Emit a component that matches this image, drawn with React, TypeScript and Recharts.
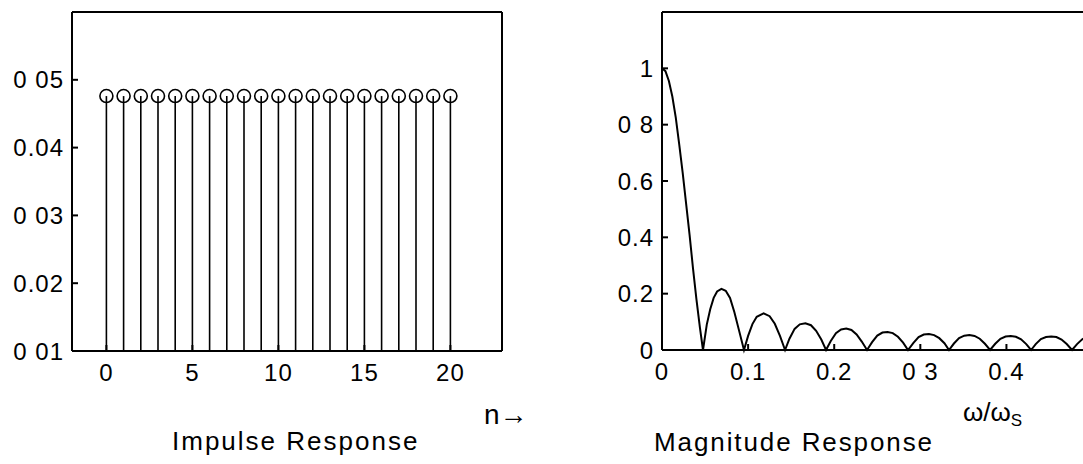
import React from "react";
import { ComposedChart, Line, ReferenceLine, Scatter, XAxis, YAxis } from "recharts";

// impulse response: 21 equal taps
const impulseN = [0, 1, 2, 3, 4, 5, 6, 7, 8, 9, 10, 11, 12, 13, 14, 15, 16, 17, 18, 19, 20];
const impulseH = [
  0.0476, 0.0476, 0.0476, 0.0476, 0.0476, 0.0476, 0.0476, 0.0476, 0.0476, 0.0476, 0.0476,
  0.0476, 0.0476, 0.0476, 0.0476, 0.0476, 0.0476, 0.0476, 0.0476, 0.0476, 0.0476,
];
const impulseXTicks = [0, 5, 10, 15, 20];
const impulseYTicks = [0.01, 0.02, 0.03, 0.04, 0.05];
const impulseYLabels = ["0 01", "0.02", "0 03", "0.04", "0 05"];

// magnitude response
const magFreq = [
  0, 0.004, 0.008, 0.012, 0.016, 0.02, 0.024, 0.028, 0.032, 0.036, 0.04, 0.044, 0.0476,
  0.052, 0.056, 0.06, 0.064, 0.069, 0.074, 0.079, 0.084, 0.089, 0.0952,
  0.1, 0.105, 0.11, 0.118, 0.125, 0.131, 0.137, 0.1429,
  0.148, 0.154, 0.16, 0.1665, 0.173, 0.179, 0.185, 0.1905,
  0.196, 0.202, 0.208, 0.214, 0.22, 0.226, 0.232, 0.2381,
  0.244, 0.25, 0.256, 0.262, 0.268, 0.274, 0.28, 0.2857,
  0.292, 0.298, 0.304, 0.31, 0.316, 0.322, 0.328, 0.3333,
  0.339, 0.345, 0.351, 0.357, 0.363, 0.369, 0.375, 0.381,
  0.387, 0.393, 0.399, 0.405, 0.411, 0.417, 0.423, 0.4286,
  0.434, 0.44, 0.446, 0.452, 0.458, 0.464, 0.47, 0.4762,
  0.482, 0.488, 0.494, 0.5, 0.506, 0.512, 0.518, 0.5238,
];
const magValue = [
  1.0, 0.99, 0.955, 0.9, 0.825, 0.73, 0.63, 0.52, 0.41, 0.29, 0.18, 0.08, 0,
  0.09, 0.145, 0.185, 0.208, 0.217, 0.21, 0.185, 0.135, 0.075, 0,
  0.05, 0.092, 0.118, 0.13, 0.12, 0.093, 0.05, 0,
  0.04, 0.075, 0.091, 0.095, 0.088, 0.068, 0.037, 0,
  0.032, 0.06, 0.073, 0.076, 0.071, 0.055, 0.03, 0,
  0.028, 0.051, 0.062, 0.064, 0.06, 0.047, 0.026, 0,
  0.025, 0.046, 0.055, 0.057, 0.053, 0.042, 0.024, 0,
  0.023, 0.042, 0.051, 0.053, 0.05, 0.04, 0.022, 0,
  0.022, 0.04, 0.048, 0.05, 0.047, 0.038, 0.021, 0,
  0.021, 0.039, 0.046, 0.048, 0.046, 0.037, 0.021, 0,
  0.021, 0.038, 0.046, 0.048, 0.046, 0.038, 0.021, 0,
];
const magXTicks = [0, 0.1, 0.2, 0.3, 0.4];
const magXLabels = ["0", "0.1", "0.2", "0 3", "0.4"];
const magYTicks = [0, 0.2, 0.4, 0.6, 0.8, 1];
const magYLabels = ["0", "0.2", "0.4", "0.6", "0 8", "1"];

const impulseData = impulseN.map((n, i) => ({ n, h: impulseH[i] }));
const magData = magFreq.map((f, i) => ({ f, m: magValue[i] }));

const font = "'Liberation Sans', Arial, sans-serif";
const frame = { stroke: "#000", strokeWidth: 2 };
const tickText = { fill: "#000", fontSize: 24, fontFamily: font, letterSpacing: 1 };

const Stem = (props: any) => (
  <circle cx={props.cx} cy={props.cy} r={6.5} fill="none" stroke="#000" strokeWidth={1.6} />
);

const textBox = (left: number, top: number, size: number, spacing = 0): React.CSSProperties => ({
  position: "absolute",
  left,
  top,
  fontFamily: font,
  fontSize: size,
  lineHeight: `${size}px`,
  letterSpacing: spacing,
  whiteSpace: "nowrap",
  color: "#000",
});

export default function App() {
  const impDomainY = [0.01, 0.06];
  return (
    <div
      style={{
        position: "absolute",
        left: 0,
        top: 0,
        width: 1083,
        height: 464,
        overflow: "hidden",
        background: "#fff",
      }}
    >
      <div style={{ position: "absolute", left: 0, top: 0 }}>
        <ComposedChart
          width={540}
          height={464}
          data={impulseData}
          margin={{ top: 11, right: 37, bottom: 83, left: 0 }}
        >
          <XAxis
            xAxisId="b"
            dataKey="n"
            type="number"
            domain={[-2, 23]}
            ticks={impulseXTicks}
            interval={0}
            height={30}
            tickSize={-6}
            tickMargin={19}
            axisLine={frame}
            tickLine={frame}
            tick={tickText}
          />
          <XAxis
            xAxisId="t"
            orientation="top"
            dataKey="n"
            type="number"
            domain={[-2, 23]}
            ticks={impulseXTicks}
            interval={0}
            height={1}
            tickSize={-6}
            axisLine={frame}
            tickLine={frame}
            tick={false}
          />
          <YAxis
            yAxisId="l"
            type="number"
            domain={impDomainY}
            ticks={impulseYTicks}
            interval={0}
            width={72}
            tickSize={-6}
            tickMargin={14}
            axisLine={frame}
            tickLine={frame}
            tick={tickText}
            tickFormatter={(v: number) => impulseYLabels[impulseYTicks.indexOf(v)]}
          />
          <YAxis
            yAxisId="r"
            orientation="right"
            type="number"
            domain={impDomainY}
            ticks={impulseYTicks}
            interval={0}
            width={1}
            tickSize={-6}
            axisLine={frame}
            tickLine={frame}
            tick={false}
          />
          {impulseData.map((d) => (
            <ReferenceLine
              key={d.n}
              xAxisId="b"
              yAxisId="l"
              segment={[
                { x: d.n, y: impDomainY[0] },
                { x: d.n, y: d.h },
              ]}
              stroke="#000"
              strokeWidth={1.6}
            />
          ))}
          <Scatter xAxisId="b" yAxisId="l" dataKey="h" shape={Stem} isAnimationActive={false} />
        </ComposedChart>
      </div>

      <div style={{ position: "absolute", left: 560, top: 0 }}>
        <ComposedChart
          width={600}
          height={464}
          data={magData}
          margin={{ top: 11, right: 24.4, bottom: 84, left: 0 }}
        >
          <XAxis
            xAxisId="b"
            dataKey="f"
            type="number"
            domain={[0, 0.55]}
            ticks={magXTicks}
            interval={0}
            height={30}
            tickSize={-6}
            tickMargin={19}
            axisLine={frame}
            tickLine={frame}
            tick={tickText}
            tickFormatter={(v: number) => magXLabels[magXTicks.indexOf(v)]}
          />
          <XAxis
            xAxisId="t"
            orientation="top"
            dataKey="f"
            type="number"
            domain={[0, 0.55]}
            ticks={magXTicks}
            interval={0}
            height={1}
            tickSize={-6}
            axisLine={frame}
            tickLine={frame}
            tick={false}
          />
          <YAxis
            yAxisId="l"
            type="number"
            domain={[0, 1.2]}
            ticks={magYTicks}
            interval={0}
            width={102}
            tickSize={-6}
            tickMargin={14}
            axisLine={frame}
            tickLine={frame}
            tick={tickText}
            tickFormatter={(v: number) => magYLabels[magYTicks.indexOf(v)]}
          />
          <Line
            xAxisId="b"
            yAxisId="l"
            type="linear"
            dataKey="m"
            stroke="#000"
            strokeWidth={2}
            dot={false}
            isAnimationActive={false}
          />
        </ComposedChart>
      </div>

      <div style={textBox(484, 401, 28)}>{"n\u2192"}</div>
      <div style={textBox(172, 428, 26, 2)}>Impulse Response</div>
      <div style={textBox(963, 399, 26)}>
        ω/ω<span style={{ fontSize: 17, position: "relative", top: 5 }}>S</span>
      </div>
      <div style={textBox(654, 429, 26, 1.9)}>Magnitude Response</div>
    </div>
  );
}
